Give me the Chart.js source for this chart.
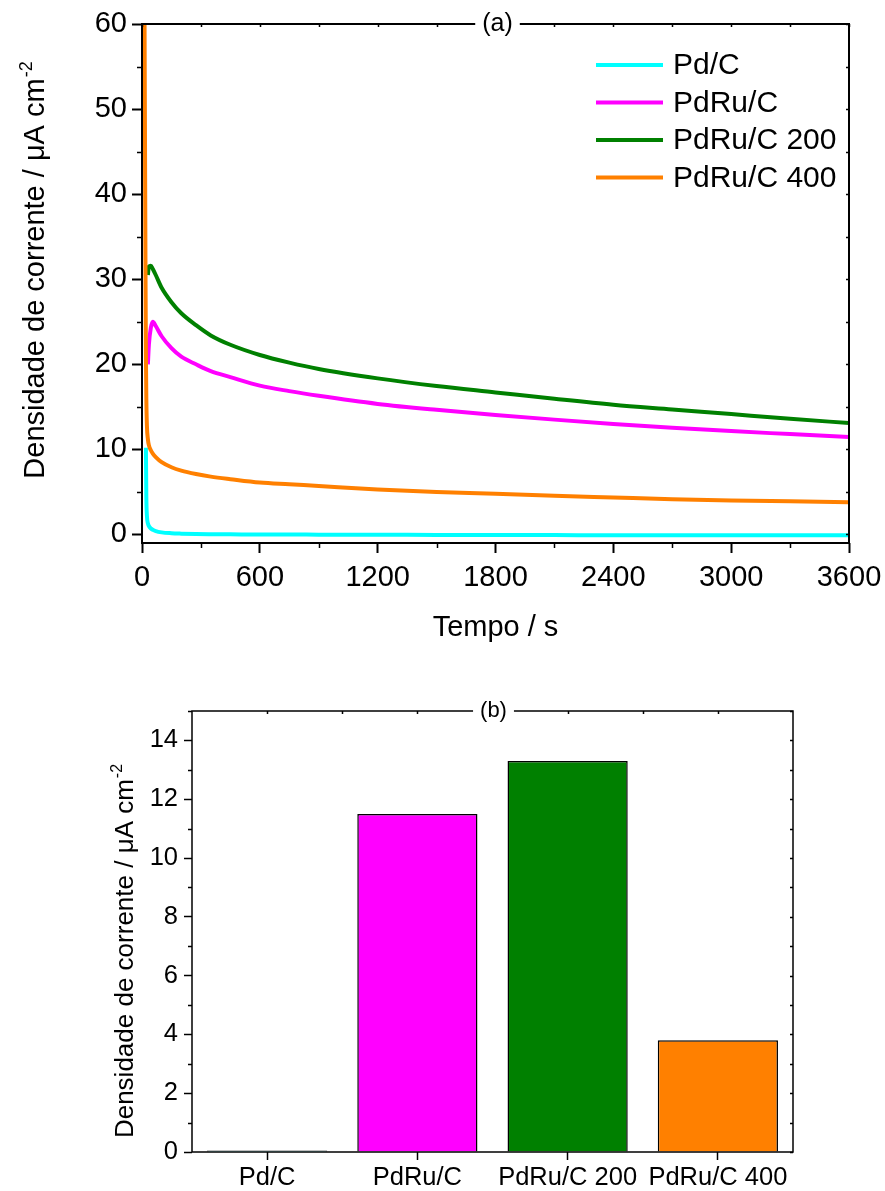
<!DOCTYPE html>
<html>
<head>
<meta charset="utf-8">
<script src="https://cdn.jsdelivr.net/npm/chart.js@4.4.1/dist/chart.umd.min.js"></script>
<style>
  body { margin: 0; background: #fff; }
  .painel { position: absolute; left: 0; }
  #painelA { top: 0; }
  #painelB { top: 660px; }
</style>
</head>
<body>
<div class="painel" id="painelA"><canvas id="graficoA" width="885" height="660"></canvas></div>
<div class="painel" id="painelB"><canvas id="graficoB" width="885" height="531"></canvas></div>
<script>
// Cronoamperometria (a) e densidade de corrente final em 3600 s (b)
const tempo = [12, 15, 18, 20, 22, 25, 30, 35, 45, 55, 70, 100, 150, 200, 275, 350, 450, 600, 750, 900, 1200, 1500, 1800, 2100, 2400, 2700, 3000, 3300, 3600];
const jPdC      = [null, null, null, 10.2, 4.5, 2.2, 1.3, 1.0, 0.7, 0.55, 0.4, 0.25, 0.15, 0.1, 0.05, 0.03, 0.02, 0, 0, -0.02, -0.03, -0.05, -0.06, -0.07, -0.08, -0.08, -0.09, -0.1, -0.1];
const jPdRuC    = [null, null, null, null, null, null, 20.0, 22.3, 24.3, 25.0, 24.5, 23.3, 21.9, 20.9, 20.0, 19.2, 18.5, 17.5, 16.85, 16.3, 15.35, 14.65, 14.05, 13.5, 13.0, 12.55, 12.15, 11.8, 11.45];
const jPdRuC200 = [null, null, null, null, null, null, 30.5, 31.5, 31.6, 31.2, 30.5, 29.0, 27.3, 26.0, 24.6, 23.4, 22.3, 21.1, 20.2, 19.45, 18.35, 17.45, 16.7, 15.95, 15.25, 14.7, 14.15, 13.6, 13.1];
const jPdRuC400 = [66, 48, 30, 21, 16, 12.8, 11.2, 10.5, 9.9, 9.5, 9.1, 8.5, 7.9, 7.5, 7.1, 6.8, 6.5, 6.1, 5.9, 5.7, 5.3, 5.0, 4.8, 4.55, 4.35, 4.15, 4.0, 3.9, 3.8];

const amostras = ["Pd/C", "PdRu/C", "PdRu/C 200", "PdRu/C 400"];
const cores = ["#00ffff", "#ff00ff", "#008000", "#ff8000"];
const jFinal = [0.05, 11.5, 13.3, 3.8];

const ticksTempo = [0, 600, 1200, 1800, 2400, 3000, 3600];
const menoresTempo = [300, 900, 1500, 2100, 2700, 3300];
const ticksJ = [0, 10, 20, 30, 40, 50, 60];
const menoresJ = [5, 15, 25, 35, 45, 55];
const ticksBarra = [0, 2, 4, 6, 8, 10, 12, 14];
const menoresBarra = [1, 3, 5, 7, 9, 11, 13, 15];

const familia = "'Liberation Sans', Arial, sans-serif";
Chart.defaults.font.family = familia;
Chart.defaults.color = "#000";

// Moldura fechada, ticks menores e rótulo do painel no eixo superior
const moldura = {
  id: "moldura",
  afterDraw(chart, args, o) {
    const { ctx, chartArea: a, scales } = chart;
    const sx = scales.x, sy = scales.y;
    ctx.save();
    ctx.strokeStyle = "#000";
    ctx.lineWidth = o.lineWidth;
    ctx.strokeRect(a.left, a.top, a.right - a.left, a.bottom - a.top);
    ctx.lineWidth = 1.5;
    ctx.beginPath();
    o.menoresX.forEach(v => {
      const px = Math.round(sx.getPixelForValue(v)) + 0.5;
      ctx.moveTo(px, a.bottom);
      ctx.lineTo(px, a.bottom + o.menor);
    });
    o.menoresY.forEach(v => {
      const py = Math.round(sy.getPixelForValue(v)) + 0.5;
      ctx.moveTo(a.left, py);
      ctx.lineTo(a.left - o.menor, py);
    });
    o.topoX.forEach(v => {
      const px = Math.round(sx.getPixelForValue(v)) + 0.5;
      ctx.moveTo(px, a.top);
      ctx.lineTo(px, a.top + o.interno);
    });
    o.direitaY.forEach(v => {
      const py = Math.round(sy.getPixelForValue(v)) + 0.5;
      ctx.moveTo(a.right, py);
      ctx.lineTo(a.right - o.interno, py);
    });
    ctx.stroke();

    ctx.font = o.rotuloFonte + "px " + familia;
    const w = ctx.measureText(o.rotulo).width + 2 * o.folga;
    const cx = (a.left + a.right) / 2 + o.desvio;
    ctx.fillStyle = "#fff";
    ctx.fillRect(cx - w / 2, a.top - 4, w, 8);
    ctx.fillStyle = "#000";
    ctx.textAlign = "center";
    ctx.textBaseline = "middle";
    ctx.fillText(o.rotulo, cx, a.top);
    ctx.restore();
  }
};

// Título do eixo y com expoente sobrescrito
const tituloY = {
  id: "tituloY",
  afterDraw(chart, args, o) {
    const { ctx, chartArea: a } = chart;
    const fonte = o.tamanho + "px " + familia;
    const fonteSup = Math.round(o.tamanho * 0.62) + "px " + familia;
    ctx.save();
    ctx.translate(o.x, (a.top + a.bottom) / 2 + o.desvio);
    ctx.rotate(-Math.PI / 2);
    ctx.font = fonte;
    const wTexto = ctx.measureText(o.texto).width;
    ctx.font = fonteSup;
    const wSup = ctx.measureText(o.sup).width;
    const x0 = -(wTexto + wSup) / 2;
    ctx.fillStyle = "#000";
    ctx.textAlign = "left";
    ctx.textBaseline = "alphabetic";
    ctx.font = fonte;
    ctx.fillText(o.texto, x0, 0);
    ctx.font = fonteSup;
    ctx.fillText(o.sup, x0 + wTexto + 1, -o.tamanho * 0.42);
    ctx.restore();
  }
};

// Legenda dentro da área do gráfico
const legenda = {
  id: "legenda",
  afterDraw(chart, args, o) {
    const ctx = chart.ctx;
    ctx.save();
    ctx.font = o.tamanho + "px " + familia;
    ctx.textAlign = "left";
    ctx.textBaseline = "middle";
    chart.data.datasets.forEach((ds, i) => {
      const y = o.y + i * o.passo;
      ctx.strokeStyle = ds.borderColor;
      ctx.lineWidth = 4;
      ctx.beginPath();
      ctx.moveTo(o.x, y);
      ctx.lineTo(o.x + o.comprimento, y);
      ctx.stroke();
      ctx.fillStyle = "#000";
      ctx.fillText(ds.label, o.x + o.comprimento + o.espaco, y + 1);
    });
    ctx.restore();
  }
};

const semSeparador = v => String(v);

// tamanho fixo dos eixos, sem folga extra para rótulos nas pontas
const fixarAltura = h => s => { s.height = h; s.paddingLeft = 0; s.paddingRight = 0; };
const fixarLargura = w => s => { s.width = w; s.paddingTop = 0; s.paddingBottom = 0; };

const series = [jPdC, jPdRuC, jPdRuC200, jPdRuC400];
const ordem = [3, 2, 1, 0];

new Chart(document.getElementById("graficoA"), {
  type: "line",
  data: {
    datasets: series.map((vals, i) => ({
      label: amostras[i],
      data: tempo.map((t, k) => ({ x: t, y: vals[k] })),
      borderColor: cores[i],
      backgroundColor: cores[i],
      order: ordem[i]
    }))
  },
  options: {
    responsive: false,
    animation: false,
    devicePixelRatio: 1,
    layout: { padding: { top: 24, right: 36, left: 0, bottom: 0 } },
    elements: {
      point: { radius: 0 },
      line: { borderWidth: 4, cubicInterpolationMode: "monotone" }
    },
    plugins: {
      legend: { display: false },
      tooltip: { enabled: false },
      moldura: {
        lineWidth: 2, menor: 5, interno: 3,
        menoresX: menoresTempo, menoresY: menoresJ,
        topoX: ticksTempo.concat(menoresTempo), direitaY: ticksJ.concat(menoresJ),
        rotulo: "(a)", rotuloFonte: 25, folga: 7, desvio: 2
      },
      tituloY: { texto: "Densidade de corrente / μA cm", sup: "-2", tamanho: 29, x: 44, desvio: -13 },
      legenda: { x: 596, y: 65, passo: 37.5, comprimento: 67, espaco: 10, tamanho: 30 }
    },
    scales: {
      x: {
        type: "linear",
        min: 0,
        max: 3600,
        afterBuildTicks: s => { s.ticks = ticksTempo.map(v => ({ value: v })); },
        afterFit: fixarAltura(117),
        ticks: { font: { size: 29 }, color: "#000", padding: 8, maxRotation: 0, autoSkip: false, callback: semSeparador },
        grid: { drawOnChartArea: false, tickLength: 10, tickColor: "#000", tickWidth: 2 },
        border: { display: false },
        title: { display: true, text: "Tempo / s", font: { size: 29 }, color: "#000", padding: { bottom: 15 } }
      },
      y: {
        min: -1,
        max: 60,
        afterBuildTicks: s => { s.ticks = ticksJ.map(v => ({ value: v })); },
        afterFit: fixarLargura(142),
        ticks: { font: { size: 29 }, color: "#000", padding: 5, callback: semSeparador },
        grid: { drawOnChartArea: false, tickLength: 10, tickColor: "#000", tickWidth: 2 },
        border: { display: false }
      }
    }
  },
  plugins: [moldura, tituloY, legenda]
});

new Chart(document.getElementById("graficoB"), {
  type: "bar",
  data: {
    labels: amostras,
    datasets: [{
      label: "j (3600 s)",
      data: jFinal,
      backgroundColor: cores,
      borderColor: "#000",
      borderWidth: 1.5,
      barPercentage: 0.8,
      categoryPercentage: 1
    }]
  },
  options: {
    responsive: false,
    animation: false,
    devicePixelRatio: 1,
    layout: { padding: { top: 51, right: 92, left: 0, bottom: 0 } },
    plugins: {
      legend: { display: false },
      tooltip: { enabled: false },
      moldura: {
        lineWidth: 1.5, menor: 4, interno: 3,
        menoresX: [], menoresY: menoresBarra,
        topoX: [0, 0.5, 1, 1.5, 2, 2.5, 3], direitaY: ticksBarra.concat(menoresBarra),
        rotulo: "(b)", rotuloFonte: 22, folga: 7, desvio: 1
      },
      tituloY: { texto: "Densidade de corrente / μA cm", sup: "-2", tamanho: 26, x: 133, desvio: 20 }
    },
    scales: {
      x: {
        afterFit: fixarAltura(39),
        ticks: { font: { size: 25.5 }, color: "#000", padding: 3, maxRotation: 0, autoSkip: false },
        grid: { offset: false, drawOnChartArea: false, tickLength: 8, tickColor: "#000", tickWidth: 1.5 },
        border: { display: false }
      },
      y: {
        min: 0,
        max: 15,
        afterBuildTicks: s => { s.ticks = ticksBarra.map(v => ({ value: v })); },
        afterFit: fixarLargura(192),
        ticks: { font: { size: 25.5 }, color: "#000", padding: 6 },
        grid: { drawOnChartArea: false, tickLength: 8, tickColor: "#000", tickWidth: 1.5 },
        border: { display: false }
      }
    }
  },
  plugins: [moldura, tituloY]
});
</script>
</body>
</html>
